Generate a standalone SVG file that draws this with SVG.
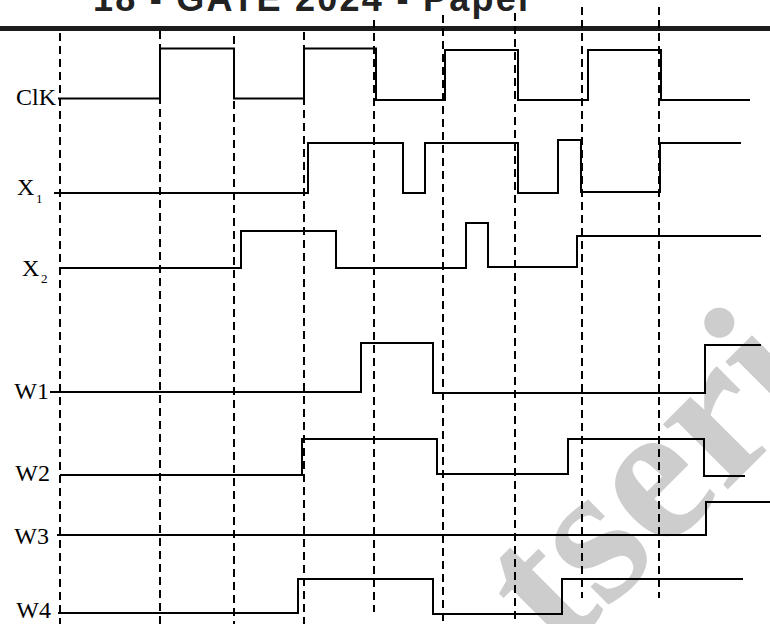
<svg xmlns="http://www.w3.org/2000/svg" width="770" height="624" viewBox="0 0 770 624">
<style>
.wave{fill:none;stroke:#000;stroke-width:2;stroke-linejoin:miter}
.grid{stroke:#000;stroke-width:2;stroke-dasharray:8 5;fill:none}
.lbl{font-family:"Liberation Serif","Times New Roman",serif;font-size:24px;fill:#000}
.sub{font-family:"Liberation Serif","Times New Roman",serif;font-size:13px;fill:#000}
.wm{font-family:"Liberation Serif","Times New Roman",serif;font-weight:bold;font-size:200px;fill:#cdcdcd}
.hdr{font-family:"Liberation Sans",Arial,sans-serif;font-weight:bold;font-size:36px;fill:#222}
</style>
<rect width="770" height="624" fill="#fff"/>
<g id="watermark">
<text class="wm" transform="translate(559,658) rotate(-45)">tseries</text>
</g>
<g id="header">
<text class="hdr" x="93" y="11" textLength="439" lengthAdjust="spacing">18 - GATE 2024 - Paper</text>
<rect x="0" y="26" width="770" height="5" fill="#1c1c1c"/>
</g>
<g id="gridlines">
<line class="grid" x1="60" y1="33" x2="60" y2="624"/>
<line class="grid" x1="160" y1="31" x2="160" y2="624"/>
<line class="grid" x1="234" y1="36" x2="234" y2="624"/>
<line class="grid" x1="304" y1="32" x2="304" y2="624"/>
<line class="grid" x1="374" y1="20" x2="374" y2="612"/>
<line class="grid" x1="443" y1="15" x2="443" y2="624"/>
<line class="grid" x1="515" y1="13" x2="515" y2="624"/>
<line class="grid" x1="582" y1="7" x2="582" y2="598"/>
<line class="grid" x1="659" y1="7" x2="659" y2="598"/>
</g>
<g id="clk">
<text class="lbl" x="56" y="105" text-anchor="end">ClK</text>
<path class="wave" d="M58,98.5 H160 V48.5 H234 V98.5 H304 V48.5 H376 V100 H445 V50 H518 V100 H588 V50 H661 V100 H750"/>
</g>
<g id="x1">
<text class="lbl" x="17" y="195" font-size="23">X</text>
<text class="sub" x="36" y="203">1</text>
<path class="wave" d="M54,193 H308 V143 H403 V193 H425 V143 H518 V193 H558 V140 H581 V192 H660 V143 H741"/>
</g>
<g id="x2">
<text class="lbl" x="22" y="276" font-size="23">X</text>
<text class="sub" x="41" y="283">2</text>
<path class="wave" d="M60,268 H241 V231 H336 V268 H466 V223 H488 V267 H577 V236 H761"/>
</g>
<g id="w1">
<text class="lbl" x="49" y="399" text-anchor="end">W1</text>
<path class="wave" d="M50,392 H361 V343 H433 V393 H705 V345 H761"/>
</g>
<g id="w2">
<text class="lbl" x="50" y="481" text-anchor="end">W2</text>
<path class="wave" d="M60,475 H302 V439 H437 V474 H568 V439 H704 V476 H745"/>
</g>
<g id="w3">
<text class="lbl" x="49" y="544" text-anchor="end">W3</text>
<path class="wave" d="M57,535 H706 V502 H770"/>
</g>
<g id="w4">
<text class="lbl" x="51" y="618" text-anchor="end">W4</text>
<path class="wave" d="M58,613 H298 V579 H433 V614 H562 V579 H743"/>
</g>
</svg>
